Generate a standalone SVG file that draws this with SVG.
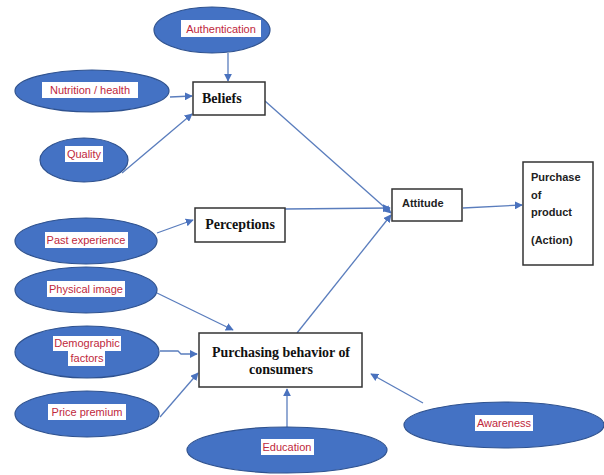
<svg xmlns="http://www.w3.org/2000/svg" width="604" height="475" viewBox="0 0 604 475">
<defs>
<marker id="ah" viewBox="0 0 10 10" refX="9" refY="5" markerWidth="8" markerHeight="8" markerUnits="userSpaceOnUse" orient="auto">
<path d="M0,0 L10,5 L0,10 z" fill="#4a72be"/>
</marker>
<style>
.ell{fill:#4472c4;stroke:#2f528f;stroke-width:1.2}
.lbg{fill:#ffffff}
.lbl{font-family:"Liberation Sans","Open Sans",sans-serif;font-size:11px;fill:#c0283c;text-anchor:middle}
.box{fill:#ffffff;stroke:#333333;stroke-width:1.5}
.ser{font-family:"Liberation Serif","Times New Roman",serif;font-weight:bold;font-size:14px;fill:#111111}
.sans{font-family:"Liberation Sans","Open Sans",sans-serif;font-weight:bold;font-size:11px;fill:#222222}
.con{stroke:#5a7dbd;stroke-width:1.3;fill:none;marker-end:url(#ah)}
</style>
</defs>
<rect width="604" height="475" fill="#ffffff"/>
<g id="connectors">
<line class="con" x1="228" y1="53" x2="228" y2="81"/>
<line class="con" x1="170" y1="97" x2="192" y2="96"/>
<line class="con" x1="122" y1="173" x2="192" y2="114"/>
<line class="con" x1="265" y1="101" x2="391" y2="213"/>
<line class="con" x1="157" y1="233" x2="193" y2="220"/>
<line class="con" x1="285" y1="209" x2="390" y2="208"/>
<line class="con" x1="157" y1="293" x2="233" y2="330"/>
<polyline class="con" points="160,351 178,351 181,354 197,354"/>
<line class="con" x1="160" y1="417" x2="198" y2="373"/>
<line class="con" x1="297" y1="333" x2="391" y2="215"/>
<line class="con" x1="287" y1="428" x2="287" y2="389"/>
<line class="con" x1="423" y1="403" x2="371" y2="374"/>
<line class="con" x1="463" y1="208" x2="522" y2="205"/>
</g>
<g id="authentication">
<ellipse class="ell" cx="212" cy="30" rx="58" ry="23"/>
<rect class="lbg" x="181" y="20" width="80" height="17"/>
<text class="lbl" x="221" y="32.5">Authentication</text>
</g>
<g id="nutrition">
<ellipse class="ell" cx="92" cy="91" rx="77" ry="21"/>
<rect class="lbg" x="42" y="82" width="96" height="16"/>
<text class="lbl" x="90" y="94">Nutrition / health</text>
</g>
<g id="quality">
<ellipse class="ell" cx="84" cy="160" rx="44" ry="22"/>
<rect class="lbg" x="65" y="146" width="38" height="16"/>
<text class="lbl" x="84" y="158">Quality</text>
</g>
<g id="beliefs">
<rect class="box" x="193" y="82" width="72" height="33"/>
<text class="ser" x="202" y="103">Beliefs</text>
</g>
<g id="past-experience">
<ellipse class="ell" cx="86" cy="241" rx="71" ry="23"/>
<rect class="lbg" x="45" y="232" width="83" height="16"/>
<text class="lbl" x="86" y="244">Past experience</text>
</g>
<g id="perceptions">
<rect class="box" x="195" y="208" width="90" height="34"/>
<text class="ser" x="240" y="229" text-anchor="middle">Perceptions</text>
</g>
<g id="physical-image">
<ellipse class="ell" cx="86" cy="290" rx="71" ry="23"/>
<rect class="lbg" x="47" y="281" width="78" height="16"/>
<text class="lbl" x="86" y="293">Physical image</text>
</g>
<g id="demographic">
<ellipse class="ell" cx="87" cy="352" rx="72" ry="26"/>
<rect class="lbg" x="53" y="336" width="68" height="15"/>
<rect class="lbg" x="68" y="351" width="37" height="15"/>
<text class="lbl" x="87" y="347">Demographic</text>
<text class="lbl" x="87" y="362">factors</text>
</g>
<g id="price-premium">
<ellipse class="ell" cx="87" cy="414" rx="72" ry="23"/>
<rect class="lbg" x="48" y="404" width="78" height="16"/>
<text class="lbl" x="87" y="416">Price premium</text>
</g>
<g id="purchasing-behavior">
<rect class="box" x="199" y="333" width="163" height="54"/>
<text class="ser" x="281" y="357" text-anchor="middle" textLength="138" lengthAdjust="spacingAndGlyphs">Purchasing behavior of</text>
<text class="ser" x="281" y="374" text-anchor="middle">consumers</text>
</g>
<g id="education">
<ellipse class="ell" cx="287" cy="450" rx="100" ry="23"/>
<rect class="lbg" x="261" y="439" width="53" height="16"/>
<text class="lbl" x="287" y="451">Education</text>
</g>
<g id="awareness">
<ellipse class="ell" cx="504" cy="425" rx="100" ry="23"/>
<rect class="lbg" x="475" y="415" width="58" height="16"/>
<text class="lbl" x="504" y="427">Awareness</text>
</g>
<g id="attitude">
<rect class="box" x="392" y="189" width="70" height="32"/>
<text class="sans" x="402" y="207">Attitude</text>
</g>
<g id="purchase">
<rect class="box" x="523" y="162" width="70" height="103"/>
<text class="sans" x="531" y="181">Purchase</text>
<text class="sans" x="531" y="199">of</text>
<text class="sans" x="531" y="216">product</text>
<text class="sans" x="531" y="244">(Action)</text>
</g>
</svg>
